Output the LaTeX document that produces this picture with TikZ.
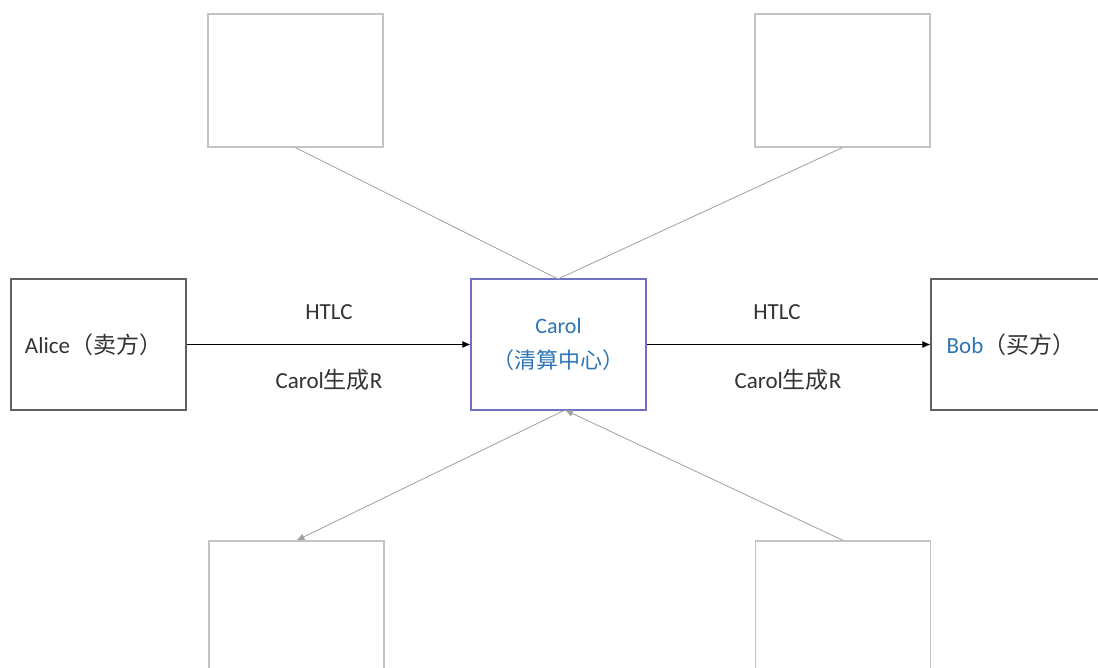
\documentclass[tikz,border=0pt]{standalone}
\usepackage{fontspec}
\setmainfont{Carlito}
\newfontfamily\cjk{Noto Sans CJK SC}
\usetikzlibrary{arrows.meta}
\definecolor{carolblue}{HTML}{2E75B6}
\definecolor{carolframe}{HTML}{6F6FC4}
\definecolor{darkframe}{HTML}{606060}
\definecolor{lightframe}{HTML}{C4C4C4}
\definecolor{greyline}{HTML}{A0A0A0}
\definecolor{txt}{HTML}{333333}
\tikzset{
  box/.style={draw=darkframe, line width=1.2pt, minimum width=175pt, minimum height=131pt, inner sep=0pt, font=\fontsize{23}{28}\selectfont, text=txt},
  emptybox/.style={draw=lightframe, line width=1.2pt, minimum width=175pt, minimum height=133pt, inner sep=0pt},
  centerbox/.style={draw=carolframe, line width=1.2pt, minimum width=175pt, minimum height=131pt, inner sep=0pt, align=center, font=\fontsize{22}{35}\selectfont, text=carolblue},
  mainarrow/.style={draw=black, line width=0.8pt, -{Latex[length=8pt,width=7pt]}},
  greyconn/.style={draw=greyline, line width=0.8pt},
  greyarrow/.style={draw=greyline, line width=0.8pt, -{Latex[length=8pt,width=7pt]}},
  lbl/.style={font=\fontsize{23}{28}\selectfont, text=txt, inner sep=1pt}
}
\begin{document}
\begin{tikzpicture}[x=1pt,y=-1pt]
\useasboundingbox (0,0) rectangle (1098,668);
\clip (0,0) rectangle (1098,668);
\fill[white] (0,0) rectangle (1098,668);
% top boxes
\node[emptybox] (tl) at (295.5,80.5) {};
\node[emptybox] (tr) at (842.5,80.5) {};
% middle row
\node[box] (alice) at (98.5,344.5) {\hspace*{-10pt}Alice{\cjk（卖方）}};
\node[centerbox] (carol) at (558.5,344.5) {Carol\\{\cjk（清算中心）}};
\node[box, minimum width=180pt] (bob) at (1021,344.5) {\hspace*{-20pt}{\color{carolblue}Bob}{\cjk（买方）}};
% bottom boxes
\node[emptybox, minimum height=160pt] (bl) at (296.5,621) {};
\node[emptybox, minimum height=160pt] (br) at (843,621) {};
% connectors
\coordinate (ctop) at (558,279);
\coordinate (cbot) at (565,410);
\draw[greyconn] (tl.south) -- (ctop);
\draw[greyconn] (tr.south) -- (ctop);
\draw[greyarrow] (cbot) -- (bl.north);
\draw[greyarrow] (br.north) -- (cbot);
\draw[mainarrow] (alice.east) -- (carol.west);
\draw[mainarrow] (carol.east) -- (bob.west);
% labels
\node[lbl] (h1) at (329,312) {HTLC};
\node[lbl] (r1) at (329,380) {Carol{\cjk 生成}R};
\node[lbl] (h2) at (777,312) {HTLC};
\node[lbl] (r2) at (788,380) {Carol{\cjk 生成}R};
\end{tikzpicture}
\end{document}
